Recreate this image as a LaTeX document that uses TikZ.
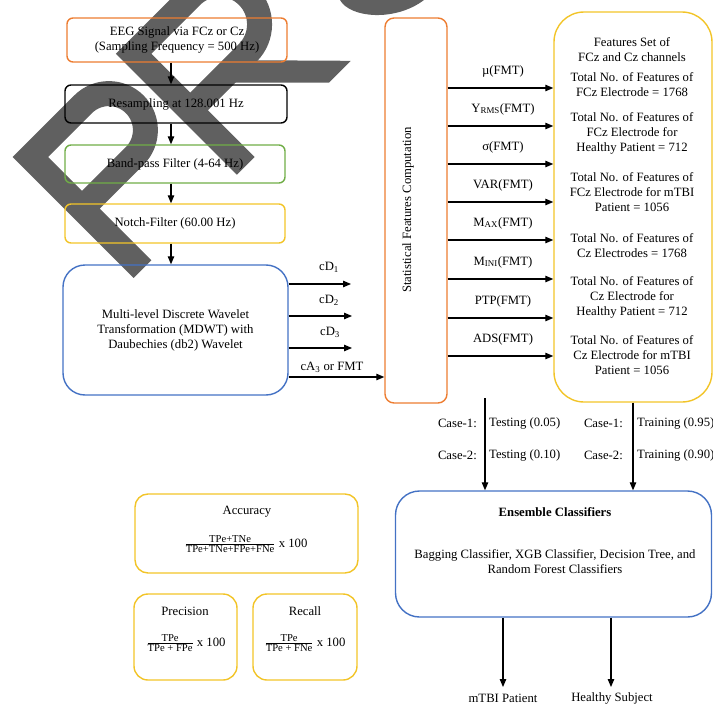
\documentclass[tikz,border=0pt]{standalone}
\usepackage{fontspec}
\setmainfont{Liberation Serif}
\usetikzlibrary{arrows.meta}
\definecolor{cOr}{RGB}{237,125,49}
\definecolor{cGr}{RGB}{112,173,71}
\definecolor{cYe}{RGB}{242,196,40}
\definecolor{cBl}{RGB}{68,114,196}
\definecolor{wmc}{RGB}{96,96,96}
\newcommand\fracfont{\fontsize{10.6}{11}\selectfont}
\begin{document}
\begin{tikzpicture}[x=1pt,y=-1pt,
  font=\fontsize{12.7}{15}\selectfont,
  box/.style={draw, line width=1.4pt, align=center, inner sep=0pt},
  arr/.style={line width=1.1pt, -{Triangle[length=8pt,width=6.5pt]}},
  lbl/.style={inner sep=0pt, align=center},
  wm/.style={draw=wmc, line width=25pt, line cap=butt, line join=miter},
  wmf/.style={fill=wmc}]
\useasboundingbox (0,0) rectangle (713,704);

% watermark (drawn behind the diagram)
\begin{scope}
\clip (0,0) rectangle (713,704);
\begin{scope}[rotate=45]
  \draw[wm] (-89.5,291) -- (-89.5,132.5) -- (-15,132.5) arc[start angle=90, end angle=-90, radius=36.5pt] -- (-89.5,205.5);
  \draw[wm] (56.5,291) -- (56.5,132.5) -- (138,132.5) arc[start angle=90, end angle=-90, radius=40pt] -- (56.5,212.5);
  \fill[wmf] (88,205) -- (120,205) -- (205,291) -- (174,291) -- cycle;
\end{scope}
\fill[wmf] (340,0) .. controls (350,18) and (395,22) .. (424,0) -- cycle;
\end{scope}

% left column
\node[box, draw=cOr, rounded corners=6pt, minimum width=220pt, minimum height=44pt] (eeg) at (177,40)
  {EEG Signal via FCz or Cz\\(Sampling Frequency = 500 Hz)};
\node[box, draw=black, rounded corners=6pt, minimum width=222pt, minimum height=38pt] (res) at (176,104)
  {Resampling at 128.001 Hz};
\node[box, draw=cGr, rounded corners=6pt, minimum width=220pt, minimum height=38pt] (bp) at (175,164)
  {Band-pass Filter (4-64 Hz)};
\node[box, draw=cYe, rounded corners=6pt, minimum width=220pt, minimum height=39pt] (notch) at (175,223.5)
  {Notch-Filter (60.00 Hz)};
\node[box, draw=cBl, rounded corners=22pt, minimum width=225pt, minimum height=130pt] (mdwt) at (175.5,330)
  {Multi-level Discrete Wavelet\\Transformation (MDWT) with\\Daubechies (db2) Wavelet};

\coordinate (ax) at (171,0);
\draw[arr] (eeg.south -| ax) -- (res.north -| ax);
\draw[arr] (res.south -| ax) -- (bp.north -| ax);
\draw[arr] (bp.south -| ax) -- (notch.north -| ax);
\draw[arr] (notch.south -| ax) -- (mdwt.north -| ax);

% statistical box
\node[box, draw=cOr, rounded corners=9pt, minimum width=62pt, minimum height=385pt] (stat) at (416,210.5) {};
\node[lbl, rotate=90] (stattxt) at (408,210) {Statistical Features Computation};

% wavelet outputs
\coordinate (d1) at (351,284);
\coordinate (d2) at (352,316);
\coordinate (d3) at (352,348);
\coordinate (ca) at (385,377);
\draw[arr] (mdwt.east |- d1) -- (d1);
\draw[arr] (mdwt.east |- d2) -- (d2);
\draw[arr] (mdwt.east |- d3) -- (d3);
\draw[arr] (mdwt.east |- ca) -- (stat.west |- ca);
\node[lbl] (ld1) at (329,267) {cD\textsubscript{1}};
\node[lbl] (ld2) at (329,300) {cD\textsubscript{2}};
\node[lbl] (ld3) at (330,332) {cD\textsubscript{3}};
\node[lbl] (lca) at (332,367) {cA\textsubscript{3} or FMT};

% features box
\node[box, draw=cYe, rounded corners=30pt, minimum width=158pt, minimum height=390pt] (feat) at (633,207) {};
\node[lbl] (f0) at (632,49.5) {Features Set of\\FCz and Cz channels};
\node[lbl] (f1) at (632,85) {Total No. of Features of\\FCz Electrode = 1768};
\node[lbl] (f2) at (632,133) {Total No. of Features of\\FCz Electrode for\\Healthy Patient = 712};
\node[lbl] (f3) at (632,192) {Total No. of Features of\\FCz Electrode for mTBI\\Patient = 1056};
\node[lbl] (f4) at (632,246) {Total No. of Features of\\Cz Electrodes = 1768};
\node[lbl] (f5) at (632,297) {Total No. of Features of\\Cz Electrode for\\Healthy Patient = 712};
\node[lbl] (f6) at (632,355.5) {Total No. of Features of\\Cz Electrode for mTBI\\Patient = 1056};

% statistical feature arrows
\foreach \yy/\txt [count=\i] in {88/{µ(FMT)}, 126/{Y\textsubscript{RMS}(FMT)}, 164/{σ(FMT)}, 202/{VAR(FMT)},
   240/{M\textsubscript{AX}(FMT)}, 279/{M\textsubscript{INI}(FMT)}, 318/{PTP(FMT)}, 356/{ADS(FMT)}}{
  \coordinate (s\i) at (450,\yy);
  \draw[arr] (stat.east |- s\i) -- (feat.west |- s\i);
  \node[lbl] (sl\i) at (503,\yy-17) {\txt};
}

% ensemble
\node[box, draw=cBl, rounded corners=24pt, minimum width=316pt, minimum height=126pt] (ens) at (553.5,554) {};
\node[lbl, font=\fontsize{12.7}{15}\selectfont\bfseries] (enst) at (555,512) {Ensemble Classifiers};
\node[lbl] (ensb) at (555,562) {Bagging Classifier, XGB Classifier, Decision Tree, and\\Random Forest Classifiers};

\coordinate (t0) at (485,398);
\draw[arr] (t0) -- (ens.north -| t0);
\draw[arr] (feat.south) -- (ens.north -| feat.south);

\node[lbl, anchor=east] (c1l) at (477,423) {Case-1:};
\node[lbl, anchor=west] (t1) at (489,423) {Testing (0.05)};
\node[lbl, anchor=east] (c2l) at (477,455) {Case-2:};
\node[lbl, anchor=west] (t2) at (489,455) {Testing (0.10)};
\node[lbl, anchor=east] (c1r) at (623,423) {Case-1:};
\node[lbl, anchor=west] (r1) at (637,423) {Training (0.95)};
\node[lbl, anchor=east] (c2r) at (623,455) {Case-2:};
\node[lbl, anchor=west] (r2) at (637,455) {Training (0.90)};

\coordinate (o1) at (503,687);
\coordinate (o2) at (611,687);
\draw[arr] (ens.south -| o1) -- (o1);
\draw[arr] (ens.south -| o2) -- (o2);
\node[lbl] (mtbi) at (503,698) {mTBI Patient};
\node[lbl] (healthy) at (612,698) {Healthy Subject};

% metrics
\node[box, draw=cYe, rounded corners=13pt, minimum width=223pt, minimum height=79pt] (acc) at (246.5,533.5) {};
\node[lbl] (acct) at (247,512) {Accuracy};
\node[lbl] (accf) at (246,544) {$\frac{\hbox{\fracfont TPe+TNe}}{\hbox{\fracfont TPe+TNe+FPe+FNe}}$ x 100};
\node[box, draw=cYe, rounded corners=14pt, minimum width=103pt, minimum height=86pt] (prec) at (185.5,637) {};
\node[lbl] (prect) at (185,611) {Precision};
\node[lbl] (precf) at (186,643) {$\frac{\hbox{\fracfont TPe}}{\hbox{\fracfont TPe + FPe}}$ x 100};
\node[box, draw=cYe, rounded corners=14pt, minimum width=104pt, minimum height=86pt] (rec) at (305,637) {};
\node[lbl] (rect) at (305,611) {Recall};
\node[lbl] (recf) at (305,643) {$\frac{\hbox{\fracfont TPe}}{\hbox{\fracfont TPe + FNe}}$ x 100};
\end{tikzpicture}
\end{document}
